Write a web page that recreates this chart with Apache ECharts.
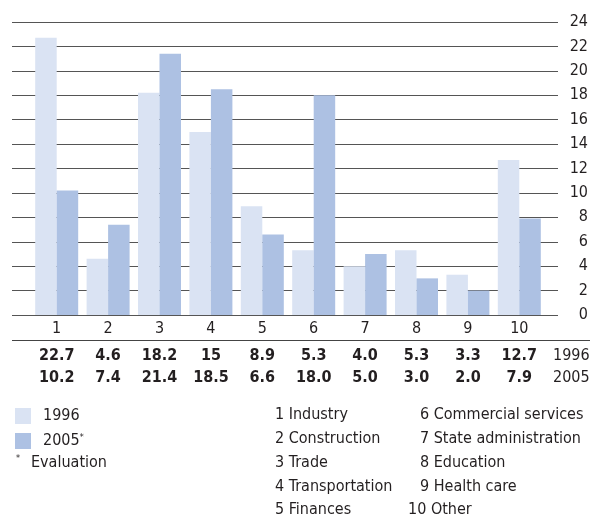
<!DOCTYPE html>
<html>
<head>
<meta charset="utf-8">
<script src="https://cdn.jsdelivr.net/npm/echarts@6/dist/echarts.min.js"></script>
<style>
  html, body { margin: 0; padding: 0; background: #fff; }
  #chart { width: 600px; height: 523px; }
</style>
</head>
<body>
<div id="chart"></div>
<script>
// data
const categories = ['1', '2', '3', '4', '5', '6', '7', '8', '9', '10']
const values1996 = ['22.7', '4.6', '18.2', '15', '8.9', '5.3', '4.0', '5.3', '3.3', '12.7']
const values2005 = ['10.2', '7.4', '21.4', '18.5', '6.6', '18.0', '5.0', '3.0', '2.0', '7.9']
const categoryNames = ['Industry', 'Construction', 'Trade', 'Transportation', 'Finances',
  'Commercial services', 'State administration', 'Education', 'Health care', 'Other']
const yTicks = { min: 0, max: 24, interval: 2 }

const FONT = "'DejaVu Sans Condensed', 'Liberation Sans Narrow', sans-serif"
const INK = '#231f20'
const C1996 = '#dae3f3'
const C2005 = '#adc1e3'

const chart = echarts.init(document.getElementById('chart'))

// key of category names, two columns
const keyTexts = categoryNames.map((name, i) => {
  const col = i < 5 ? 0 : 1
  const row = i % 5
  const num = categories[i]
  return {
    type: 'text',
    x: col === 0 ? 275 : (num.length > 1 ? 408 : 420),
    y: 415 + row * 23.8,
    style: { text: num + ' ' + name, font: '16px ' + FONT, fill: INK, verticalAlign: 'middle' }
  }
})

const tableAxis = (vals, offset, name) => ({
  type: 'category',
  gridIndex: 1,
  data: categories,
  position: 'bottom',
  offset: offset,
  axisLine: { show: false },
  axisTick: { show: false },
  axisLabel: {
    interval: 0,
    margin: 0,
    verticalAlign: 'middle',
    fontFamily: FONT,
    fontSize: 16,
    fontWeight: 'bold',
    color: INK,
    formatter: (v, idx) => vals[idx]
  },
  name: name,
  nameLocation: 'end',
  nameGap: 8,
  nameTextStyle: { fontFamily: FONT, fontSize: 16, color: INK, verticalAlign: 'middle' }
})

chart.setOption({
  animation: false,
  grid: [
    { left: 12, right: 42, top: 22, bottom: 208 },
    { left: 31, right: 55, top: 22, bottom: 208 }
  ],
  legend: {
    orient: 'vertical',
    left: 15,
    top: 408,
    padding: 0,
    itemWidth: 16,
    itemHeight: 16,
    itemGap: 9,
    icon: 'rect',
    data: ['1996', '2005'],
    formatter: n => n === '2005' ? '2005{s|*}' : n,
    textStyle: {
      fontFamily: FONT, fontSize: 16, color: INK, padding: [0, 0, 0, 7],
      rich: { s: { fontFamily: FONT, fontSize: 9, color: INK, verticalAlign: 'top', padding: [0, 0, 6, 0] } }
    }
  },
  xAxis: [
    { type: 'category', gridIndex: 0, data: categories, show: false },
    {
      type: 'category',
      gridIndex: 1,
      data: categories,
      axisLine: { show: false },
      axisTick: { show: false },
      axisLabel: { interval: 0, margin: 14, verticalAlign: 'middle', fontFamily: FONT, fontSize: 16, color: INK }
    },
    tableAxis(values1996, 41, '1996'),
    tableAxis(values2005, 63, '2005')
  ],
  yAxis: [
    {
      type: 'value',
      gridIndex: 0,
      position: 'right',
      min: yTicks.min,
      max: yTicks.max,
      interval: yTicks.interval,
      axisLine: { show: false },
      axisTick: { show: false },
      splitLine: { lineStyle: { color: '#555', width: 1 } },
      axisLabel: { align: 'right', margin: 30, fontFamily: FONT, fontSize: 16, color: INK }
    },
    {
      type: 'value',
      gridIndex: 1,
      min: yTicks.min,
      max: yTicks.max,
      interval: yTicks.interval,
      show: false
    }
  ],
  series: [
    {
      name: '1996', type: 'bar', xAxisIndex: 1, yAxisIndex: 1,
      data: values1996, barWidth: 21.5, barGap: '0%',
      itemStyle: { color: C1996 }
    },
    {
      name: '2005', type: 'bar', xAxisIndex: 1, yAxisIndex: 1,
      data: values2005, barWidth: 21.5, barGap: '0%',
      itemStyle: { color: C2005 }
    }
  ],
  graphic: [
    {
      type: 'line',
      shape: { x1: 12, y1: 340.5, x2: 590, y2: 340.5 },
      style: { stroke: '#444', lineWidth: 1 }
    },
    {
      type: 'text', x: 16, y: 459,
      style: { text: '*', font: '9px ' + FONT, fill: INK, verticalAlign: 'middle' }
    },
    {
      type: 'text', x: 31, y: 463,
      style: { text: 'Evaluation', font: '16px ' + FONT, fill: INK, verticalAlign: 'middle' }
    },
    ...keyTexts
  ]
})
</script>
</body>
</html>
